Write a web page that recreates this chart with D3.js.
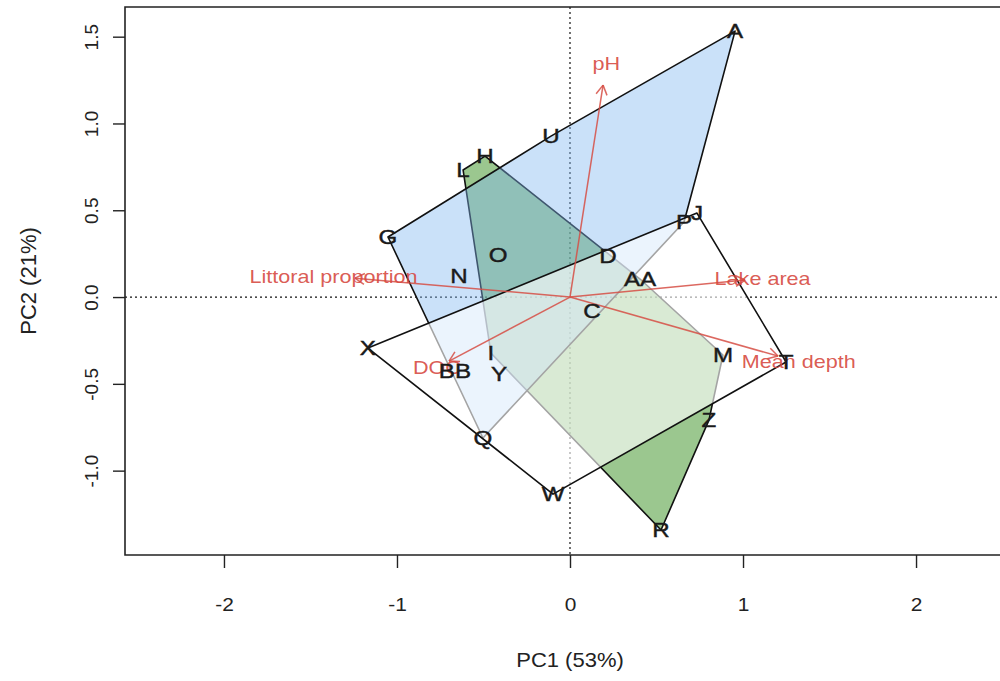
<!DOCTYPE html>
<html>
<head>
<meta charset="utf-8">
<script src="https://cdn.jsdelivr.net/npm/d3@7"></script>
<style>
  html, body { margin: 0; padding: 0; background: #fff; }
  svg { display: block; font-family: "Liberation Sans", Arial, Helvetica, sans-serif; }
</style>
</head>
<body>
<svg id="chart" width="1000" height="681"></svg>
<script>
// Site scores on the first two principal components
const siteNames = ["A", "U", "H", "L", "G", "O", "N", "D", "AA", "P", "J", "C",
                   "X", "I", "BB", "Y", "M", "T", "Z", "Q", "W", "R"];
const sitePC1 = [0.954, -0.110, -0.491, -0.618, -1.052, -0.416, -0.642, 0.220, 0.405, 0.659, 0.734, 0.127,
                 -1.168, -0.457, -0.665, -0.410, 0.884, 1.249, 0.803, -0.503, -0.098, 0.526];
const sitePC2 = [1.532, 0.927, 0.812, 0.732, 0.346, 0.242, 0.121, 0.236, 0.104, 0.432, 0.484, -0.081,
                 -0.294, -0.323, -0.426, -0.444, -0.334, -0.374, -0.709, -0.812, -1.135, -1.342];
const siteGroup = ["b", "b", "g", "g", "b", "b", "b", "g", "g", "b", "w", "g",
                   "w", "g", "w", "w", "g", "w", "g", "b", "w", "g"];

// Hull groups, in drawing order
const groupIds = ["g", "b", "w"];
const groupFill = ["rgb(88,162,68)", "rgb(128,184,240)", "rgb(255,255,255)"];
const groupOpacity = [0.6, 0.42, 0.62];

// Environmental variable loadings (arrow tips)
const varNames = ["pH", "Littoral proportion", "Lake area", "Mean depth", "DOC"];
const varPC1 = [0.191, -1.243, 1.012, 1.202, -0.699];
const varPC2 = [1.221, 0.109, 0.098, -0.340, -0.369];

// Axis ticks and titles
const xTicks = [-2, -1, 0, 1, 2];
const yTicks = [-1.0, -0.5, 0.0, 0.5, 1.0, 1.5];
const xTitle = "PC1 (53%)";
const yTitle = "PC2 (21%)";

const svg = d3.select("#chart");
const plot = { left: 125, right: 1015, top: 7, bottom: 555 };

const x = d3.scaleLinear().domain([-2.572, 2.572]).range([plot.left, plot.right]);
const y = d3.scaleLinear().domain([-1.486, 1.671]).range([plot.bottom, plot.top]);

const arrowRed = "rgb(214,78,68)";
const labelRed = "rgb(214,72,64)";

svg.append("defs").append("clipPath").attr("id", "plotclip")
  .append("rect")
  .attr("x", plot.left).attr("y", plot.top)
  .attr("width", plot.right - plot.left).attr("height", plot.bottom - plot.top);

const body = svg.append("g").attr("clip-path", "url(#plotclip)");

// Zero reference lines
body.append("line")
  .attr("x1", plot.left).attr("x2", plot.right)
  .attr("y1", y(0)).attr("y2", y(0))
  .attr("stroke", "#111").attr("stroke-width", 1.2).attr("stroke-dasharray", "2,3");
body.append("line")
  .attr("x1", x(0)).attr("x2", x(0))
  .attr("y1", plot.top).attr("y2", plot.bottom)
  .attr("stroke", "#111").attr("stroke-width", 1.2).attr("stroke-dasharray", "2,3");

// Convex hulls of the three groups
const sites = siteNames.map((n, i) => ({ name: n, px: sitePC1[i], py: sitePC2[i], grp: siteGroup[i] }));
groupIds.forEach((gid, gi) => {
  const pts = sites.filter(s => s.grp === gid).map(s => [x(s.px), y(s.py)]);
  const hull = d3.polygonHull(pts);
  body.append("path")
    .attr("d", "M" + hull.map(p => p.join(",")).join("L") + "Z")
    .attr("fill", groupFill[gi]).attr("fill-opacity", groupOpacity[gi])
    .attr("stroke", "#111").attr("stroke-width", 1.6).attr("stroke-linejoin", "round");
});

// Loading arrows with open heads
const vars = varNames.map((n, i) => ({ name: n, px: varPC1[i], py: varPC2[i] }));
const arrowG = body.append("g").attr("stroke-opacity", 0.85);
vars.forEach(v => {
  const x0 = x(0), y0 = y(0), x1 = x(v.px), y1 = y(v.py);
  arrowG.append("line")
    .attr("x1", x0).attr("y1", y0).attr("x2", x1).attr("y2", y1)
    .attr("stroke", arrowRed).attr("stroke-width", 1.5);
  const ang = Math.atan2(y1 - y0, x1 - x0);
  const headLen = 11, spread = Math.PI / 6;
  [ang + Math.PI - spread, ang + Math.PI + spread].forEach(a => {
    arrowG.append("line")
      .attr("x1", x1).attr("y1", y1)
      .attr("x2", x1 + headLen * Math.cos(a)).attr("y2", y1 + headLen * Math.sin(a))
      .attr("stroke", arrowRed).attr("stroke-width", 1.5);
  });
});

// Variable names just beyond the arrow tips
body.append("g").selectAll("text").data(vars).join("text")
  .attr("transform", d => `translate(${x(d.px * 1.1)},${y(d.py * 1.1)}) scale(1.2,1)`)
  .attr("text-anchor", "middle").attr("dominant-baseline", "central")
  .attr("font-size", 18).attr("fill", labelRed).attr("fill-opacity", 0.9)
  .text(d => d.name);

// Site labels
body.append("g").selectAll("text").data(sites).join("text")
  .attr("transform", d => `translate(${x(d.px)},${y(d.py)}) scale(1.15,1)`)
  .attr("text-anchor", "middle").attr("dominant-baseline", "central")
  .attr("font-size", 21).attr("fill", "#1a1a1a")
  .attr("stroke", "#1a1a1a").attr("stroke-width", 0.45)
  .text(d => d.name);

// Frame
svg.append("path")
  .attr("d", `M${plot.right},${plot.top}H${plot.left}V${plot.bottom}H${plot.right}`)
  .attr("fill", "none").attr("stroke", "#222").attr("stroke-width", 1.6);

// Axes
const xAxis = svg.append("g").attr("transform", `translate(0,${plot.bottom})`)
  .call(d3.axisBottom(x).tickValues(xTicks).tickSize(13).tickFormat(d => String(d)));
xAxis.select(".domain").remove();
xAxis.selectAll(".tick line").attr("stroke", "#222").attr("stroke-width", 1.4);
xAxis.selectAll(".tick text")
  .attr("y", 0).attr("dy", 0)
  .attr("transform", "translate(0,49) scale(1.1,1)")
  .attr("font-size", 19).attr("fill", "#222")
  .attr("font-family", "Liberation Sans, Arial, sans-serif")
  .attr("dominant-baseline", "central");

const yAxis = svg.append("g").attr("transform", `translate(${plot.left},0)`)
  .call(d3.axisLeft(y).tickValues(yTicks).tickSize(12).tickFormat(d => d.toFixed(1)));
yAxis.select(".domain").remove();
yAxis.selectAll(".tick line").attr("stroke", "#222").attr("stroke-width", 1.4);
yAxis.selectAll(".tick text")
  .attr("x", 0).attr("dy", 0)
  .attr("transform", "translate(-34,0) rotate(-90)")
  .attr("text-anchor", "middle").attr("dominant-baseline", "central")
  .attr("font-size", 19).attr("fill", "#222")
  .attr("font-family", "Liberation Sans, Arial, sans-serif");

svg.append("text")
  .attr("transform", `translate(570,660) scale(1.1,1)`)
  .attr("text-anchor", "middle").attr("dominant-baseline", "central")
  .attr("font-size", 20).attr("fill", "#222")
  .text(xTitle);

svg.append("text")
  .attr("transform", `translate(28,${(plot.top + plot.bottom) / 2}) rotate(-90)`)
  .attr("text-anchor", "middle").attr("dominant-baseline", "central")
  .attr("font-size", 22).attr("fill", "#222")
  .text(yTitle);
</script>
</body>
</html>
